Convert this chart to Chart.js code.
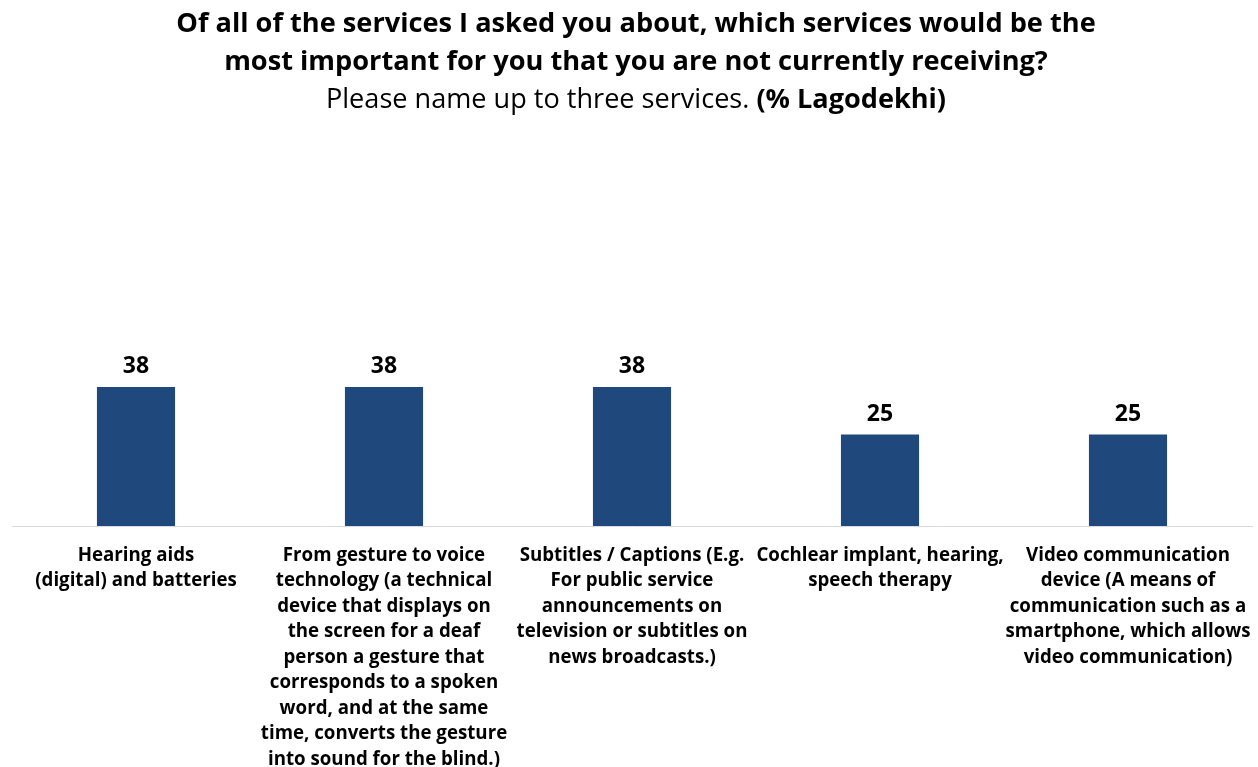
<!DOCTYPE html>
<html>
<head>
<meta charset="utf-8">
<script src="https://cdn.jsdelivr.net/npm/chart.js@4/dist/chart.umd.min.js"></script>
<style>
  html, body { margin: 0; padding: 0; background: #fff; }
  #wrap { width: 1258px; height: 767px; }
</style>
</head>
<body>
<div id="wrap"><canvas id="chart"></canvas></div>
<script>
const categories = [
  ['Hearing aids', '(digital) and batteries'],
  ['From gesture to voice', 'technology (a technical', 'device that displays on', 'the screen for a deaf', 'person a gesture that', 'corresponds to a spoken', 'word, and at the same', 'time, converts the gesture', 'into sound for the blind.)'],
  ['Subtitles / Captions (E.g.', 'For public service', 'announcements on', 'television or subtitles on', 'news broadcasts.)'],
  ['Cochlear implant, hearing,', 'speech therapy'],
  ['Video communication', 'device (A means of', 'communication such as a', 'smartphone, which allows', 'video communication)']
];
const values = [38, 38, 38, 25, 25];
const titleLines = [
  'Of all of the services I asked you about, which services would be the',
  'most important for you that you are not currently receiving?'
];
const subtitleParts = [
  { text: 'Please name up to three services. ', bold: false },
  { text: '(% Lagodekhi)', bold: true }
];

const FONT = '"Open Sans", "Noto Sans", sans-serif';
const HEAD_X = 636;

// heading: two bold lines, then a subtitle with mixed weights
const headingPlugin = {
  id: 'heading',
  afterDraw(chart) {
    const c = chart.ctx;
    c.save();
    c.textBaseline = 'alphabetic';
    c.fillStyle = '#000';

    c.textAlign = 'center';
    c.font = 'bold 27.2px ' + FONT;
    titleLines.forEach((line, i) => c.fillText(line, HEAD_X, 32 + i * 37.5));

    c.textAlign = 'left';
    const fonts = subtitleParts.map(p => (p.bold ? 'bold ' : '') + '27.1px ' + FONT);
    let total = 0;
    const widths = subtitleParts.map((p, i) => {
      c.font = fonts[i];
      const w = c.measureText(p.text).width;
      total += w;
      return w;
    });
    let x = HEAD_X - total / 2;
    subtitleParts.forEach((p, i) => {
      c.font = fonts[i];
      c.fillText(p.text, x, 107.5);
      x += widths[i];
    });
    c.restore();
  }
};

// value labels above each bar
const valueLabels = {
  id: 'valueLabels',
  afterDatasetsDraw(chart) {
    const c = chart.ctx;
    const meta = chart.getDatasetMeta(0);
    c.save();
    c.font = 'bold 23px ' + FONT;
    c.fillStyle = '#000';
    c.textAlign = 'center';
    c.textBaseline = 'alphabetic';
    meta.data.forEach((bar, i) => {
      c.fillText(values[i], bar.x, bar.y - 14);
    });
    c.restore();
  }
};

const ctx = document.getElementById('chart').getContext('2d');
new Chart(ctx, {
  type: 'bar',
  data: {
    labels: categories,
    datasets: [{
      data: values,
      backgroundColor: '#1f497d',
      barPercentage: 0.315,
      categoryPercentage: 1
    }]
  },
  options: {
    responsive: true,
    maintainAspectRatio: false,
    animation: false,
    layout: { padding: { top: 160, left: 12, right: 6, bottom: -22 } },
    plugins: {
      legend: { display: false },
      tooltip: { enabled: false },
      title: { display: false }
    },
    scales: {
      x: {
        // labels may run to the canvas edge, no extra side room
        afterFit(scale) {
          scale.paddingLeft = 0;
          scale.paddingRight = 0;
        },
        grid: { display: false, drawTicks: false },
        border: { display: true, color: '#d9d9d9', width: 1 },
        ticks: {
          color: '#000',
          font: { family: FONT, size: 18.7, weight: 'bold', lineHeight: '25.5px' },
          padding: 16.75,
          maxRotation: 0,
          minRotation: 0,
          autoSkip: false
        }
      },
      y: {
        display: false,
        min: 0,
        max: 100
      }
    }
  },
  plugins: [headingPlugin, valueLabels]
});
</script>
</body>
</html>
